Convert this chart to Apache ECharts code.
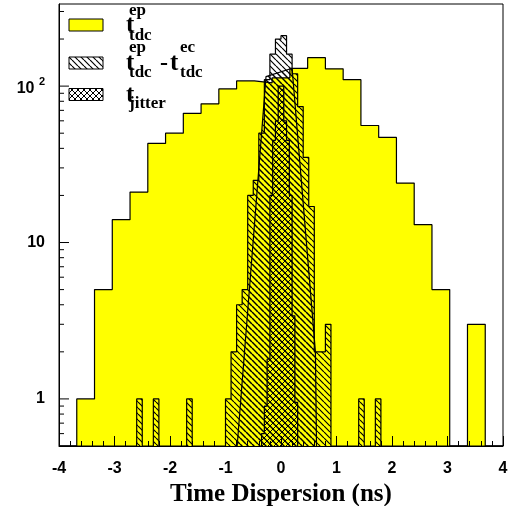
<!DOCTYPE html>
<html>
<head>
<meta charset="utf-8">
<script src="https://cdn.jsdelivr.net/npm/echarts@6/dist/echarts.min.js"></script>
<style>
  html, body { margin: 0; padding: 0; background: #fff; }
  #chart { width: 515px; height: 506px; }
</style>
</head>
<body>
<div id="chart"></div>
<script>
// t_tdc^ep : 25 bins over [-4, 4]
const epLo = -4
const epBin = 0.32
const epCounts = [0, 1, 5, 14, 21, 43, 50, 67, 77, 96, 108, 105, 113,
                  130, 152, 129, 110, 56, 47, 24, 13, 5, 0, 3, 0]

// t_tdc^ep - t_tdc^ec : 80 bins over [-4, 4]
const tdcLo = -4
const tdcBin = 0.1
const tdcCounts = [
  0, 0, 0, 0, 0, 0, 0, 0, 0, 0,
  0, 0, 0, 0, 1, 0, 0, 1, 0, 0,
  0, 0, 0, 1, 0, 0, 0, 0, 0, 0,
  1, 2, 4, 5, 20, 25, 50, 110, 160, 200,
  210, 160, 120, 74, 35, 17, 2, 2, 3, 0,
  0, 0, 0, 0, 1, 0, 0, 1, 0, 0,
  0, 0, 0, 0, 0, 0, 0, 0, 0, 0,
  0, 0, 0, 0, 0, 0, 0, 0, 0, 0
]
// outer polyline of the same histogram (slanted edges)
const tdcEnvX = [-0.79, -0.27, 0.2, 0.62, 0.64]
const tdcEnvY = [0.5, 115, 130, 2, 0.5]

// t_jitter
const jitLo = -0.35
const jitBin = 0.05
const jitCounts = [0.6, 0.9, 1.8, 20, 45, 60, 100, 100, 60, 45, 20, 3.4, 0.95]

const yMin = 0.5
const yMax = 335
const yMajorTicks = [1, 10, 100]
const yMinorTicks = [0.6, 0.7, 0.8, 0.9, 2, 3, 4, 5, 6, 7, 8, 9,
                     20, 30, 40, 50, 60, 70, 80, 90, 200, 300]

function hatch(cross) {
  const s = 6
  const c = document.createElement('canvas')
  c.width = s; c.height = s
  const g = c.getContext('2d')
  g.strokeStyle = '#000'
  g.lineWidth = cross ? 1 : 1.2
  g.beginPath()
  for (const o of [-s, 0, s]) { g.moveTo(o, 0); g.lineTo(o + s, s) }
  if (cross) for (const o of [-s, 0, s]) { g.moveTo(o + s, 0); g.lineTo(o, s) }
  g.stroke()
  return c
}
const diag = { image: hatch(false), repeat: 'repeat' }
const cross = { image: hatch(true), repeat: 'repeat' }

// histogram -> step points
function steps(lo, w, counts) {
  const pts = [[lo, yMin]]
  counts.forEach((v, i) => pts.push([+(lo + i * w).toFixed(4), v > 0 ? v : yMin]))
  pts.push([+(lo + counts.length * w).toFixed(4), yMin])
  return pts
}

function histSeries(data, fill, z, step) {
  return {
    type: 'line', data, z, step: step ? 'end' : false,
    symbol: 'none', silent: true, animation: false, clip: true,
    lineStyle: { color: '#000', width: 1.2 },
    areaStyle: { color: fill, opacity: 1, origin: 'start' }
  }
}

const serif = '"Liberation Serif", "Times New Roman", serif'
const sans = '"Liberation Sans", Arial, sans-serif'

function txt(text, x, y, size) {
  return {
    type: 'text', x, y, z: 20,
    style: { text, font: `bold ${size}px ${serif}`, fill: '#000', verticalAlign: 'middle' }
  }
}
function box(y, fill) {
  return {
    type: 'rect', z: 20, shape: { x: 69, y, width: 34, height: 12 },
    style: { fill, stroke: '#000', lineWidth: 1 }
  }
}

const chart = echarts.init(document.getElementById('chart'), null, { renderer: 'canvas' })

chart.setOption({
  backgroundColor: '#fff',
  animation: false,
  grid: {
    left: 59, right: 12, top: 4, bottom: 60,
    containLabel: false, outerBoundsMode: 'none',
    show: true, borderColor: '#000', borderWidth: 1, backgroundColor: 'transparent'
  },
  xAxis: {
    type: 'value', min: -4, max: 4, interval: 1, z: 10,
    name: 'Time Dispersion (ns)', nameLocation: 'middle', nameGap: 27,
    nameTextStyle: { fontFamily: serif, fontWeight: 'bold', fontSize: 25, color: '#000' },
    axisLine: { show: true, onZero: false, lineStyle: { color: '#000', width: 1 } },
    axisTick: { show: true, inside: true, length: 10, lineStyle: { color: '#000' } },
    minorTick: { show: true, splitNumber: 5, length: 5, lineStyle: { color: '#000' } },
    axisLabel: { margin: 15, fontFamily: sans, fontWeight: 'bold', fontSize: 16, color: '#000' },
    splitLine: { show: false }
  },
  yAxis: {
    type: 'log', logBase: 10, min: yMin, max: yMax, z: 10,
    axisLine: { show: true, onZero: false, lineStyle: { color: '#000', width: 1 } },
    axisTick: { show: false },
    splitLine: { show: false },
    axisLabel: {
      margin: 14, color: '#000', fontFamily: sans, fontWeight: 'bold', fontSize: 16,
      showMinLabel: false, showMaxLabel: false,
      formatter: v => {
        if (Math.abs(v - 1) < 1e-6) return '1'
        if (Math.abs(v - 10) < 1e-6) return '10'
        if (Math.abs(v - 100) < 1e-6) return '{b|10 }{s|2}'
        return ''
      },
      rich: {
        b: { fontFamily: sans, fontWeight: 'bold', fontSize: 16, color: '#000', padding: [4, 0, 0, 0] },
        s: { fontFamily: sans, fontWeight: 'bold', fontSize: 11, color: '#000', padding: [0, 0, 9, 0] }
      }
    }
  },
  series: [
    histSeries(steps(epLo, epBin, epCounts), '#ffff00', 2, true),
    histSeries(steps(tdcLo, tdcBin, tdcCounts), diag, 3, true),
    histSeries(tdcEnvX.map((x, i) => [x, tdcEnvY[i]]), diag, 3, false),
    histSeries(steps(jitLo, jitBin, jitCounts), cross, 4, true),
    {
      type: 'custom', z: 10, silent: true, animation: false,
      data: yMajorTicks.map(v => [v, 10]).concat(yMinorTicks.map(v => [v, 5])),
      renderItem(params, api) {
        const p = api.coord([-4, api.value(0)])
        return {
          type: 'line',
          shape: { x1: p[0], y1: p[1], x2: p[0] + api.value(1), y2: p[1] },
          style: { stroke: '#000', lineWidth: 1 }
        }
      },
      encode: { y: 0 }
    }
  ],
  graphic: [
    box(19, '#ffff00'),
    box(57, diag),
    box(88.5, cross),
    txt('t', 126, 25.5, 25), txt('ep', 129, 10.5, 17), txt('tdc', 129, 36, 17),
    txt('t', 126, 64, 25), txt('ep', 129, 47.5, 17), txt('tdc', 129, 72.5, 17),
    txt('-', 160, 64, 24),
    txt('t', 170, 64, 25), txt('ec', 180, 47.5, 17), txt('tdc', 180, 72.5, 17),
    txt('t', 126, 95.5, 25), txt('jitter', 129, 104, 17)
  ]
})
</script>
</body>
</html>
